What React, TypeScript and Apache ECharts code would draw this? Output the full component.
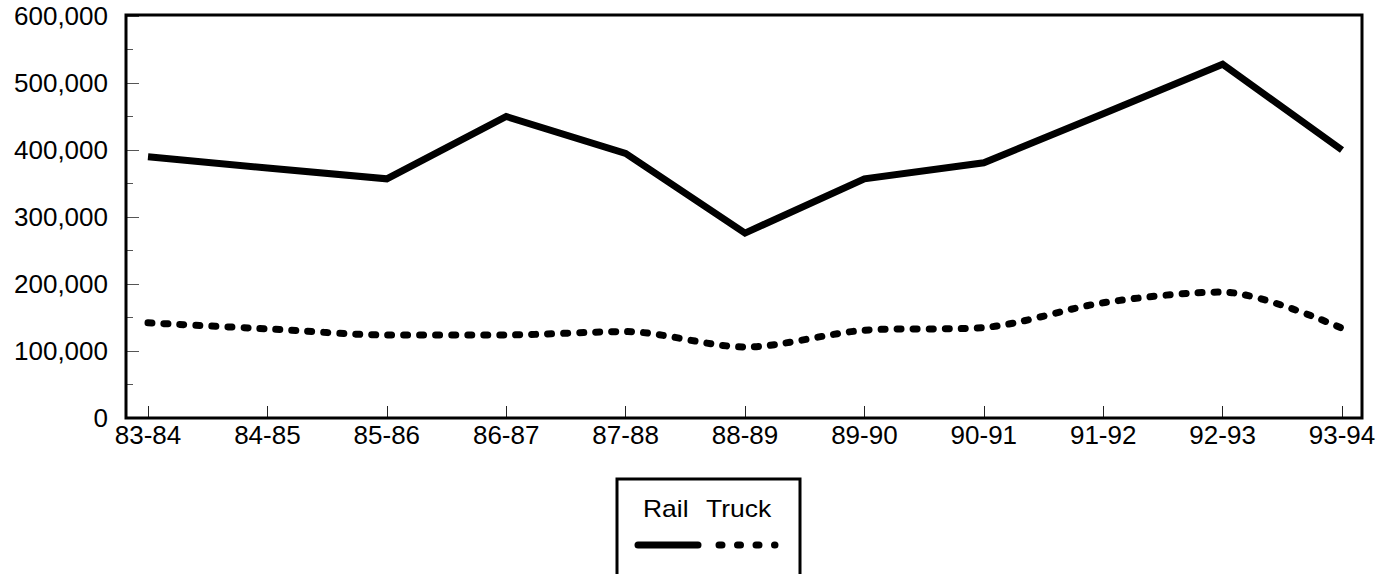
import React, { useEffect, useRef } from "react";
import * as echarts from "echarts";

const categories = ["83-84", "84-85", "85-86", "86-87", "87-88", "88-89", "89-90", "90-91", "91-92", "92-93", "93-94"];
const railValues = [390000, 373000, 357000, 450000, 395000, 276000, 357000, 381000, 454000, 528000, 400000];
const truckValues = [142000, 133000, 124000, 124000, 129000, 106000, 131000, 135000, 172000, 188000, 134000];
const legendNames = ["Rail", "Truck"];

const FONT = "'Liberation Sans', Arial, sans-serif";

export default function App() {
  const ref = useRef<HTMLDivElement>(null);
  useEffect(() => {
    if (!ref.current) return;
    const chart = echarts.init(ref.current, null, { renderer: "svg" });
    chart.setOption({
      animation: false,
      backgroundColor: "#ffffff",
      grid: { left: 148, right: 52, top: 16, bottom: 156, containLabel: false },
      xAxis: {
        type: "category",
        data: categories,
        boundaryGap: false,
        axisLine: { show: false },
        axisTick: { show: true, inside: true, length: 12, lineStyle: { color: "#222", width: 1 } },
        axisLabel: { color: "#000", fontSize: 26, fontFamily: FONT, margin: 4 },
        splitLine: { show: false },
      },
      yAxis: {
        type: "value",
        min: 0,
        max: 600000,
        interval: 100000,
        offset: 22,
        axisLine: { show: false },
        axisTick: { show: true, inside: true, length: 13, lineStyle: { color: "#555", width: 1 } },
        minorTick: { show: true, splitNumber: 2, length: 7, lineStyle: { color: "#555", width: 1 } },
        axisLabel: {
          color: "#000",
          fontSize: 26,
          fontFamily: FONT,
          margin: 18,
          formatter: (v: number) => v.toLocaleString("en-US"),
        },
        splitLine: { show: false },
      },
      series: [
        {
          name: legendNames[0],
          type: "line",
          data: railValues,
          symbol: "none",
          lineStyle: { color: "#000", width: 7, join: "miter" },
        },
        {
          name: legendNames[1],
          type: "line",
          data: truckValues,
          symbol: "none",
          smooth: 0.3,
          lineStyle: { color: "#000", width: 7, type: [4, 12], cap: "round" },
        },
      ],
      graphic: [
        {
          type: "rect",
          shape: { x: 126, y: 15, width: 1236, height: 403 },
          style: { fill: "none", stroke: "#000", lineWidth: 3 },
          z: 100,
        },
        {
          type: "rect",
          shape: { x: 617, y: 479, width: 183, height: 110 },
          style: { fill: "none", stroke: "#000", lineWidth: 3 },
          z: 100,
        },
        {
          type: "text",
          x: 643,
          y: 509,
          scaleX: 1.15,
          style: { text: legendNames[0], fill: "#000", fontSize: 23, fontFamily: FONT, verticalAlign: "middle", align: "left" },
          z: 100,
        },
        {
          type: "text",
          x: 706,
          y: 509,
          scaleX: 1.15,
          style: { text: legendNames[1], fill: "#000", fontSize: 23, fontFamily: FONT, verticalAlign: "middle", align: "left" },
          z: 100,
        },
        {
          type: "line",
          shape: { x1: 638, y1: 545, x2: 698, y2: 545 },
          style: { stroke: "#000", lineWidth: 7, lineCap: "round" },
          z: 100,
        },
        {
          type: "line",
          shape: { x1: 719, y1: 545, x2: 775, y2: 545 },
          style: { stroke: "#000", lineWidth: 7, lineCap: "round", lineDash: [3, 15.5] },
          z: 100,
        },
      ],
    });
    return () => chart.dispose();
  }, []);
  return <div ref={ref} style={{ width: 1394, height: 574, position: "absolute", left: 0, top: 0 }} />;
}
